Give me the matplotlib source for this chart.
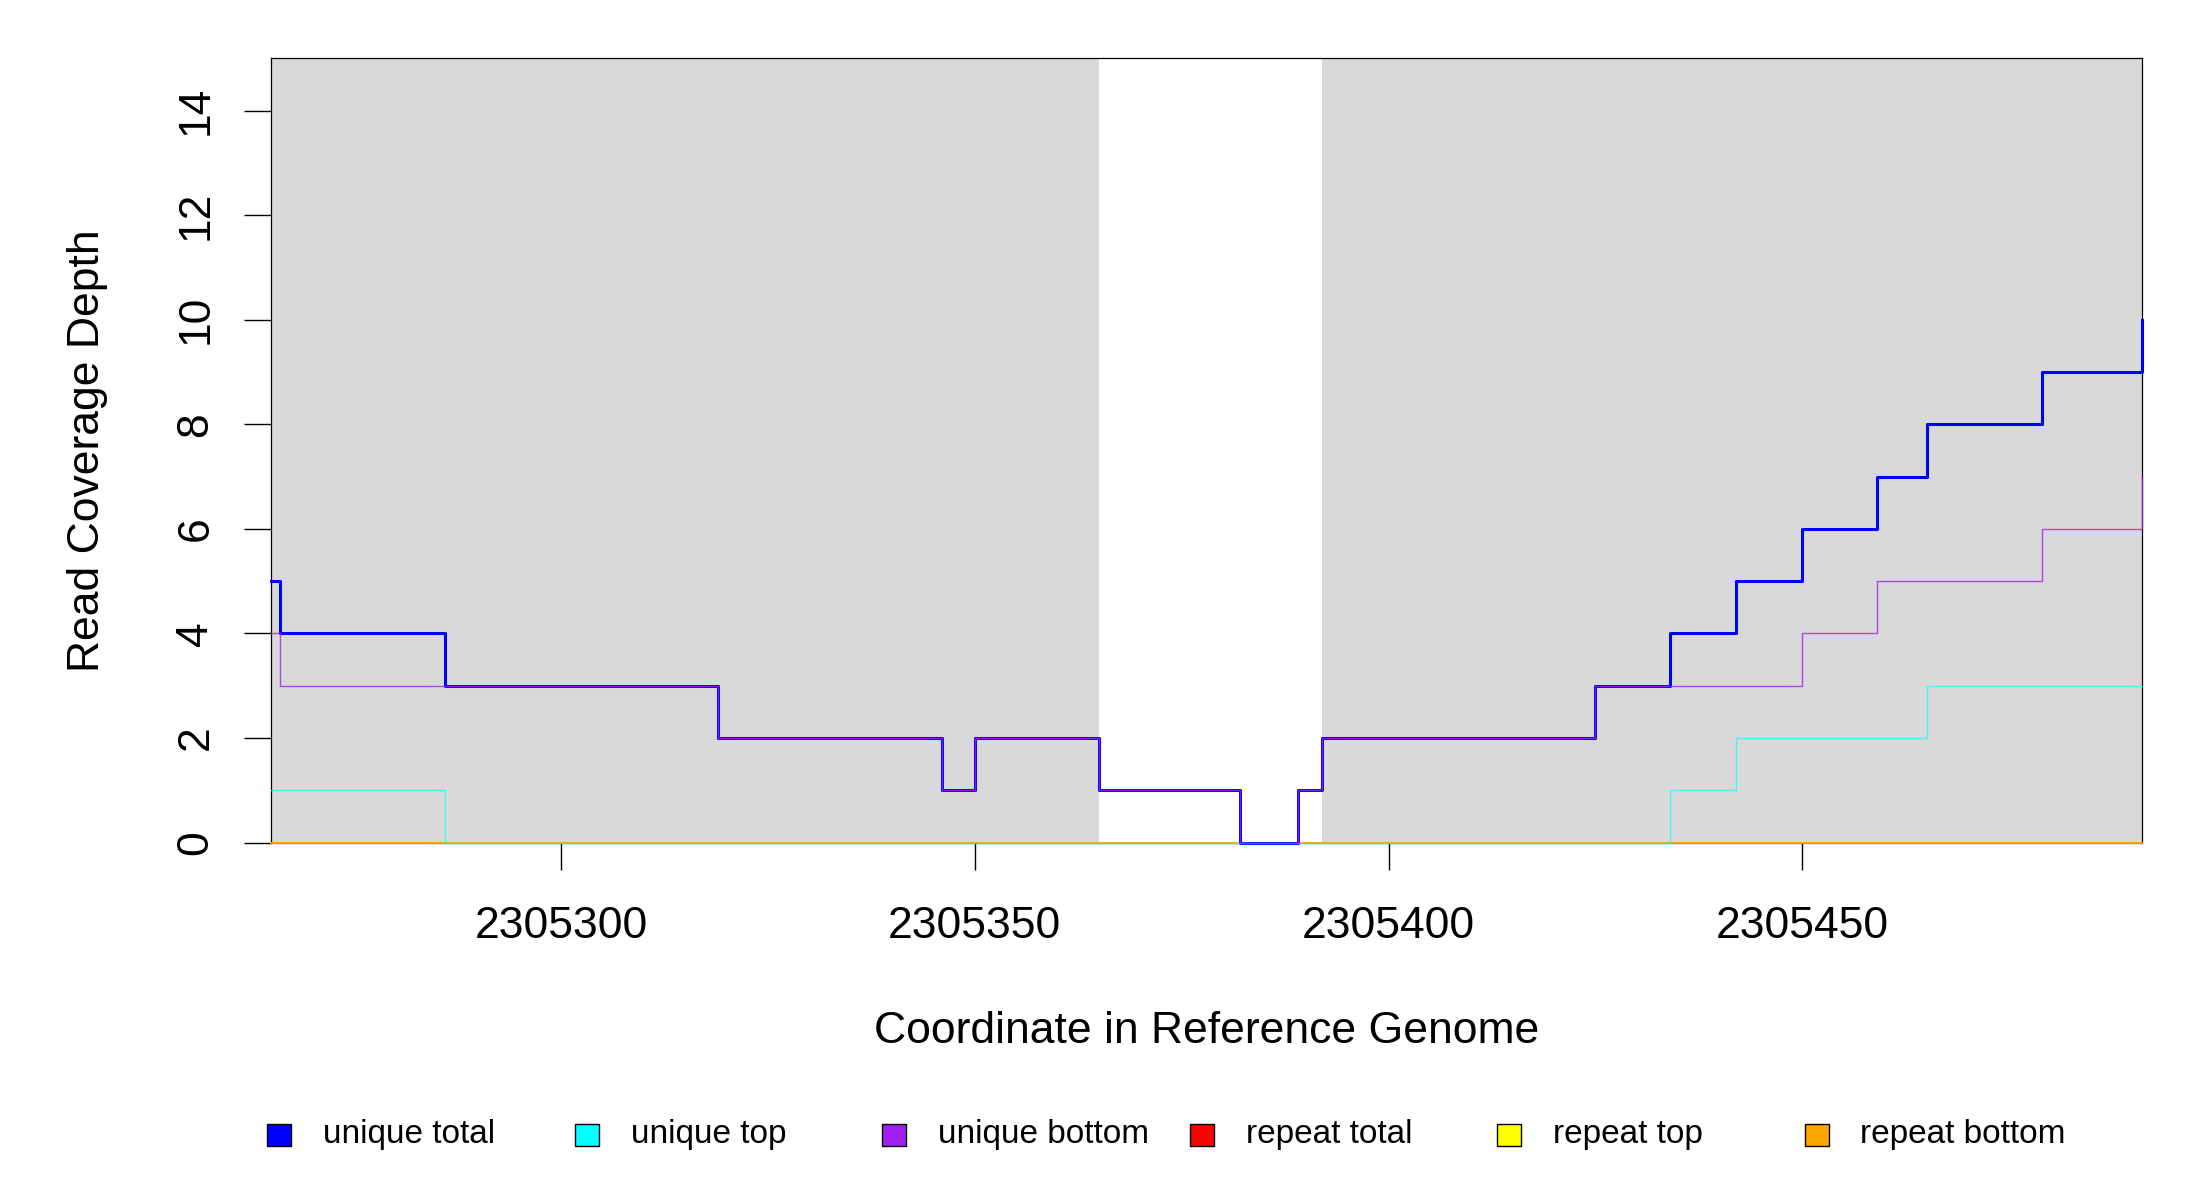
import matplotlib
matplotlib.use("Agg")
import matplotlib.pyplot as plt
from matplotlib.patches import Rectangle

plt.rcParams['font.family'] = ['Liberation Sans', 'DejaVu Sans']

# coverage breakpoints (all series share them), step drawn "post"
positions = [2305265, 2305266, 2305286, 2305319, 2305346, 2305350, 2305365,
             2305382, 2305389, 2305392, 2305425, 2305434, 2305442, 2305450,
             2305459, 2305465, 2305479, 2305491]
unique_total = [5, 4, 3, 2, 1, 2, 1, 0, 1, 2, 3, 4, 5, 6, 7, 8, 9, 10]
unique_top = [1, 1, 0, 0, 0, 0, 0, 0, 0, 0, 0, 1, 2, 2, 2, 3, 3, 3]
unique_bottom = [4, 3, 3, 2, 1, 2, 1, 0, 1, 2, 3, 3, 3, 4, 5, 5, 6, 7]
repeat_total = [0] * len(positions)
repeat_top = [0] * len(positions)
repeat_bottom = [0] * len(positions)

# shaded (gray) regions
shaded = [(2305265, 2305365), (2305392, 2305491)]

x_ticks = [2305300, 2305350, 2305400, 2305450]
y_ticks = [0, 2, 4, 6, 8, 10, 12, 14]

legend_labels = ["unique total", "unique top", "unique bottom",
                 "repeat total", "repeat top", "repeat bottom"]
legend_colors = ["#0000ff", "#00ffff", "#a020f0", "#ff0000", "#ffff00", "#ffa500"]

fig = plt.figure(figsize=(22, 12), dpi=100)
ax = fig.add_axes([0.1233, 0.2978, 0.8502, 0.6536])

for a, b in shaded:
    ax.axvspan(a, b, color="#d9d9d9", lw=0, zorder=0)

# repeat series first, unique on top
kw = dict(where="post", clip_on=False, zorder=3)
ax.step(positions, repeat_total, color="#ff0000", lw=1.2, alpha=0.6, **kw)
ax.step(positions, repeat_top, color="#ffff00", lw=1.2, alpha=0.6, **kw)
ax.step(positions, repeat_bottom, color="#ffa500", lw=1.2, alpha=0.8, **kw)
ax.step(positions, unique_total, color="#0000ff", lw=2.2, **kw)
ax.step(positions, unique_top, color="#00ffff", lw=1.0, alpha=0.7, **kw)
ax.step(positions, unique_bottom, color="#a020f0", lw=1.0, alpha=0.8, **kw)

ax.set_xlim(2305265, 2305491)
ax.set_ylim(0, 15)
ax.set_xticks(x_ticks)
ax.set_xticklabels([str(t) for t in x_ticks])
ax.set_yticks(y_ticks)
ax.set_yticklabels([str(t) for t in y_ticks], rotation=90, va="center")
ax.tick_params(axis="both", length=19.5, width=1.0, labelsize=32, direction="out")
ax.tick_params(axis="x", pad=26)
ax.tick_params(axis="y", pad=20)
for s in ax.spines.values():
    s.set_linewidth(0.9)
    s.set_color("black")

ax.set_xlabel("Coordinate in Reference Genome", fontsize=32)
ax.set_ylabel("Read Coverage Depth", fontsize=32)
ax.xaxis.set_label_coords(0.5, -0.2413)
ax.xaxis.label.set_va("center")
ax.yaxis.set_label_coords(-0.0985, 0.5)
ax.yaxis.label.set_va("center")

# legend row along the bottom
step = 307.5 / 2200
for i, (lab, col) in enumerate(zip(legend_labels, legend_colors)):
    cx = 279.4 / 2200 + i * step
    cy = 1 - 1134.5 / 1200
    w, h = 24 / 2200, 22 / 1200
    fig.patches.append(Rectangle((cx - w / 2, cy - h / 2), w, h, transform=fig.transFigure,
                                 facecolor=col, edgecolor="black", lw=1.0))
    fig.text(cx + 43.6 / 2200, cy, lab, fontsize=24, va="center", ha="left")

fig.savefig("out.png", dpi=100)
